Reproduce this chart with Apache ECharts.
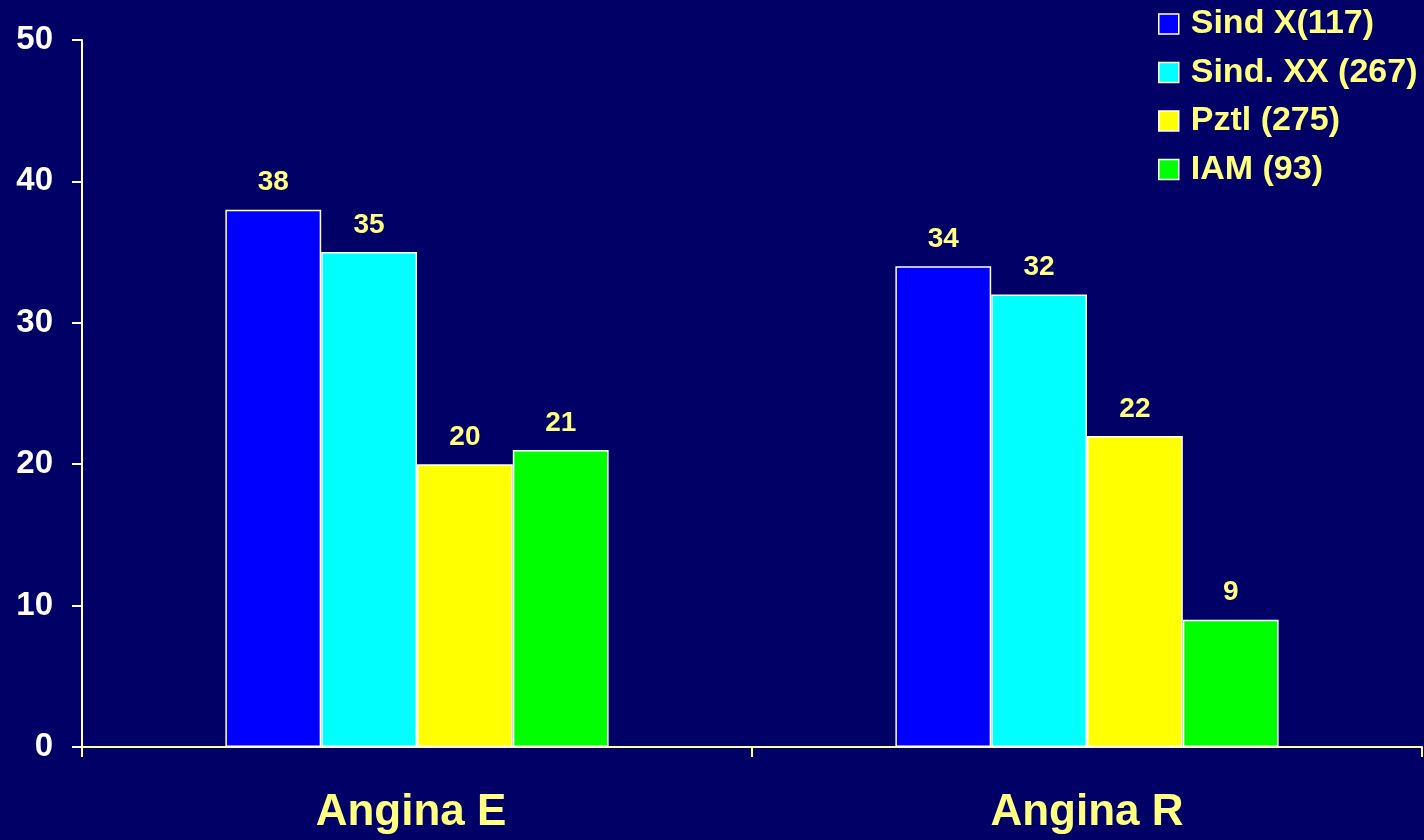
<!DOCTYPE html>
<html>
<head>
<meta charset="utf-8">
<title>Angina E / Angina R</title>
<script src="https://cdn.jsdelivr.net/npm/echarts@6/dist/echarts.min.js"></script>
<style>
  html, body { margin: 0; padding: 0; background: #000066; }
  #chart { width: 1424px; height: 840px; }
</style>
</head>
<body>
<div id="chart"></div>
<script>
// Categories along the x axis
const categories = ['Angina E', 'Angina R'];

// Group names shown in the legend
const seriesNames = ['Sind X(117)', 'Sind. XX (267)', 'Pztl (275)', 'IAM (93)'];

// Values per group, one per category
const sindX = [38, 34];
const sindXX = [35, 32];
const pztl = [20, 22];
const iam = [21, 9];

// Y axis range
const yMin = 0;
const yMax = 50;
const yStep = 10;

const seriesValues = [sindX, sindXX, pztl, iam];
const seriesColors = ['#0000ff', '#00ffff', '#ffff00', '#00ff00'];

const FONT = '"Liberation Sans", Arial, sans-serif';
const LABEL_YELLOW = '#ffff80';

const chart = echarts.init(document.getElementById('chart'), null, { renderer: 'canvas' });

chart.setOption({
  backgroundColor: '#000066',
  animation: false,
  legend: {
    orient: 'vertical',
    left: 1158,
    top: 4,
    padding: 0,
    itemWidth: 20,
    itemHeight: 20,
    itemGap: 8.5,
    icon: 'rect',
    itemStyle: { borderColor: '#ffffff', borderWidth: 1.5 },
    textStyle: {
      color: LABEL_YELLOW,
      fontFamily: FONT,
      fontWeight: 'bold',
      fontSize: 34,
      lineHeight: 40,
      padding: [0, 0, 0, 7]
    },
    data: seriesNames
  },
  grid: { left: 82, right: 2, top: 40, bottom: 93, containLabel: false },
  xAxis: {
    type: 'category',
    // the first label sits a little left of its category centre
    data: categories.map((c, i) => i === 0
      ? { value: c, textStyle: { padding: [0, 12, 0, 0] } }
      : c),
    boundaryGap: true,
    axisLine: { show: true, lineStyle: { color: '#ffff99', width: 2 } },
    axisTick: { show: true, length: 10, lineStyle: { color: '#ffff99', width: 2 } },
    axisLabel: {
      color: LABEL_YELLOW,
      fontFamily: FONT,
      fontWeight: 'bold',
      fontSize: 44,
      margin: 44
    },
    splitLine: { show: false }
  },
  yAxis: {
    type: 'value',
    min: yMin,
    max: yMax,
    interval: yStep,
    axisLine: { show: true, lineStyle: { color: '#ffffff', width: 2 } },
    axisTick: { show: true, length: 10, lineStyle: { color: '#ffffff', width: 2 } },
    axisLabel: {
      color: '#ffffff',
      fontFamily: FONT,
      fontWeight: 'bold',
      fontSize: 33,
      margin: 29
    },
    splitLine: { show: false }
  },
  series: seriesNames.map((name, i) => ({
    name: name,
    type: 'bar',
    data: seriesValues[i],
    barGap: '0%',
    barCategoryGap: '42.8%',
    itemStyle: {
      color: seriesColors[i],
      borderColor: '#ffffff',
      borderWidth: 1.5
    },
    label: {
      show: true,
      position: 'top',
      distance: 13,
      color: LABEL_YELLOW,
      fontFamily: FONT,
      fontWeight: 'bold',
      fontSize: 28
    }
  }))
});
</script>
</body>
</html>
